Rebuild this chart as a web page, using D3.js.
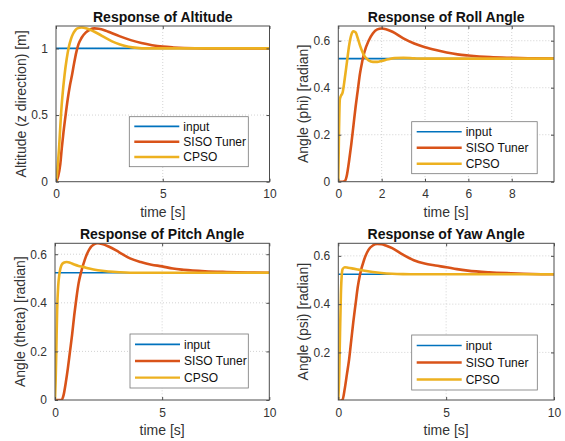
<!DOCTYPE html>
<html>
<head>
<meta charset="utf-8">
<script src="https://cdn.jsdelivr.net/npm/d3@7"></script>
<style>
body { margin: 0; background: #fff; }
svg { display: block; font-family: "Liberation Sans", Arial, sans-serif; }
</style>
</head>
<body>
<svg id="chart" width="565" height="441"></svg>
<script>
// legend names and colours (MATLAB defaults)
var seriesNames = ["input", "SISO Tuner", "CPSO"];
var seriesColors = ["#0072BD", "#D95319", "#EDB120"];

// step inputs
var inputT = [0, 10];
var altInputY = [1, 1];
var angInputY = [0.5236, 0.5236];

// ---- Altitude ----
var altSisoT = [0, 0.1, 0.2, 0.27, 0.35, 0.45, 0.55, 0.65, 0.75, 0.85, 0.95, 1.05, 1.2, 1.4, 1.6, 1.8, 2.0, 2.3, 2.6, 3.0, 3.5, 4.0, 4.5, 5.0, 5.5, 6.0, 7.0, 10];
var altSisoY = [0, 0.04, 0.13, 0.25, 0.37, 0.5, 0.62, 0.72, 0.8, 0.89, 0.97, 1.03, 1.08, 1.12, 1.142, 1.15, 1.148, 1.135, 1.115, 1.09, 1.062, 1.04, 1.024, 1.013, 1.007, 1.003, 1.0, 1.0];
var altCpsoT = [0, 0.05, 0.1, 0.15, 0.2, 0.25, 0.3, 0.4, 0.5, 0.6, 0.7, 0.8, 0.9, 1.0, 1.2, 1.4, 1.6, 1.8, 2.0, 2.3, 2.6, 3.0, 3.4, 3.8, 4.2, 10];
var altCpsoY = [0, 0.06, 0.16, 0.27, 0.41, 0.54, 0.64, 0.8, 0.92, 1.01, 1.07, 1.11, 1.135, 1.15, 1.157, 1.152, 1.14, 1.125, 1.108, 1.08, 1.055, 1.03, 1.013, 1.004, 1.0, 1.0];

// ---- Roll ----
var rollSisoT = [0, 0.2, 0.3, 0.4, 0.5, 0.6, 0.7, 0.8, 0.9, 1.0, 1.1, 1.2, 1.4, 1.6, 1.8, 2.0, 2.2, 2.5, 3.0, 3.5, 4.0, 4.5, 5.0, 5.5, 6.0, 7.0, 8.0, 9.0, 10];
var rollSisoY = [0, 0, 0.003, 0.03, 0.09, 0.16, 0.24, 0.32, 0.39, 0.46, 0.51, 0.55, 0.6, 0.632, 0.648, 0.652, 0.649, 0.638, 0.61, 0.588, 0.572, 0.56, 0.55, 0.542, 0.537, 0.53, 0.527, 0.525, 0.524];
var rollCpsoT = [0, 0.03, 0.07, 0.12, 0.2, 0.3, 0.4, 0.5, 0.6, 0.7, 0.8, 0.9, 1.0, 1.1, 1.2, 1.4, 1.6, 1.8, 2.0, 2.3, 2.6, 3.0, 3.5, 4.0, 10];
var rollCpsoY = [0, 0.2, 0.35, 0.365, 0.38, 0.44, 0.51, 0.58, 0.625, 0.64, 0.635, 0.61, 0.58, 0.555, 0.535, 0.516, 0.51, 0.51, 0.514, 0.521, 0.526, 0.527, 0.525, 0.5236, 0.5236];

// ---- Pitch ----
var pitchSisoT = [0, 0.3, 0.4, 0.5, 0.6, 0.7, 0.8, 0.9, 1.0, 1.1, 1.2, 1.4, 1.6, 1.8, 2.0, 2.2, 2.5, 3.0, 3.5, 4.0, 4.5, 5.0, 5.5, 6.0, 7.0, 8.0, 9.0, 10];
var pitchSisoY = [0, 0, 0.02, 0.07, 0.13, 0.2, 0.27, 0.35, 0.42, 0.48, 0.52, 0.58, 0.62, 0.64, 0.645, 0.642, 0.632, 0.608, 0.583, 0.568, 0.557, 0.55, 0.541, 0.536, 0.53, 0.527, 0.525, 0.524];
var pitchCpsoT = [0, 0.03, 0.06, 0.1, 0.15, 0.2, 0.25, 0.3, 0.4, 0.55, 0.7, 0.9, 1.1, 1.3, 1.6, 2.0, 2.5, 3.0, 3.5, 4.0, 10];
var pitchCpsoY = [0, 0.08, 0.2, 0.37, 0.47, 0.515, 0.54, 0.555, 0.565, 0.568, 0.565, 0.558, 0.552, 0.548, 0.541, 0.534, 0.529, 0.526, 0.524, 0.5236, 0.5236];

// ---- Yaw ----
var yawSisoT = [0, 0.1, 0.2, 0.3, 0.4, 0.5, 0.6, 0.7, 0.8, 0.9, 1.0, 1.2, 1.4, 1.6, 1.8, 2.0, 2.2, 2.5, 3.0, 3.5, 4.0, 4.5, 5.0, 5.5, 6.0, 7.0, 8.0, 9.0, 10];
var yawSisoY = [0, 0, 0.005, 0.05, 0.11, 0.17, 0.25, 0.33, 0.4, 0.47, 0.52, 0.585, 0.625, 0.643, 0.649, 0.648, 0.643, 0.632, 0.605, 0.582, 0.568, 0.56, 0.553, 0.545, 0.539, 0.532, 0.528, 0.525, 0.524];
var yawCpsoT = [0, 0.04, 0.08, 0.12, 0.16, 0.2, 0.3, 0.45, 0.7, 1.0, 1.3, 1.6, 2.0, 2.5, 3.0, 3.5, 4.0, 10];
var yawCpsoY = [0, 0.1, 0.28, 0.44, 0.52, 0.545, 0.553, 0.551, 0.547, 0.542, 0.537, 0.533, 0.529, 0.526, 0.5245, 0.524, 0.5236, 0.5236];

// axis ticks
var xTicks10 = [0, 5, 10];
var xTicksRoll = [0, 2, 4, 6, 8];
var yTicksAlt = [0, 0.5, 1];
var yTicksAng = [0, 0.2, 0.4, 0.6];
var yTicksYaw = [0.2, 0.4, 0.6];

function zipT(t, y) { return t.map(function(d, i) { return [d, y[i]]; }); }

var panels = [
  { title: "Response of Altitude", ylabel: "Altitude (z direction) [m]",
    x0: 56, x1: 269.5, y0: 26, y1: 181.7, xMax: 10, yDom: [0, 1.168],
    xTicks: xTicks10, yTicks: yTicksAlt,
    series: [zipT(inputT, altInputY), zipT(altSisoT, altSisoY), zipT(altCpsoT, altCpsoY)],
    leg: [129.3, 116.7, 119, 50] },
  { title: "Response of Roll Angle", ylabel: "Angle (phi) [radian]",
    x0: 338.3, x1: 554, y0: 26, y1: 181.7, xMax: 9.95, yDom: [0, 0.6626],
    xTicks: xTicksRoll, yTicks: yTicksAng,
    series: [zipT(inputT, angInputY), zipT(rollSisoT, rollSisoY), zipT(rollCpsoT, rollCpsoY)],
    leg: [411.7, 121.7, 125.5, 52] },
  { title: "Response of Pitch Angle", ylabel: "Angle (theta) [radian]",
    x0: 55, x1: 269.3, y0: 243.3, y1: 400, xMax: 10, yDom: [0, 0.645],
    xTicks: xTicks10, yTicks: yTicksAng,
    series: [zipT(inputT, angInputY), zipT(pitchSisoT, pitchSisoY), zipT(pitchCpsoT, pitchCpsoY)],
    leg: [130, 334, 118.3, 54] },
  { title: "Response of Yaw Angle", ylabel: "Angle (psi) [radian]",
    x0: 338.3, x1: 554, y0: 243.3, y1: 400, xMax: 10, yDom: [0.003, 0.652],
    xTicks: xTicks10, yTicks: yTicksYaw,
    series: [zipT(inputT, angInputY), zipT(yawSisoT, yawSisoY), zipT(yawCpsoT, yawCpsoY)],
    leg: [411.7, 335, 125.6, 55] }
];

var svg = d3.select("#chart");
var lineWidths = [1.6, 2.6, 2.6];
var axisColor = "#4d4d4d";

panels.forEach(function(p, pi) {
  var x = d3.scaleLinear().domain([0, p.xMax]).range([p.x0, p.x1]);
  var y = d3.scaleLinear().domain(p.yDom).range([p.y1, p.y0]);
  var g = svg.append("g");

  g.append("clipPath").attr("id", "clip" + pi)
    .append("rect")
    .attr("x", p.x0).attr("y", p.y0)
    .attr("width", p.x1 - p.x0).attr("height", p.y1 - p.y0);

  // Grid
  g.selectAll(".gx").data(p.xTicks.filter(function(d) { return d > 0 && d < p.xMax; }))
    .enter().append("line")
    .attr("x1", function(d) { return x(d); }).attr("x2", function(d) { return x(d); })
    .attr("y1", p.y0).attr("y2", p.y1)
    .attr("stroke", "#c8c8c8").attr("stroke-width", 0.8).attr("stroke-dasharray", "1,2");
  g.selectAll(".gy").data(p.yTicks.filter(function(d) { return d > p.yDom[0]; }))
    .enter().append("line")
    .attr("x1", p.x0).attr("x2", p.x1)
    .attr("y1", function(d) { return y(d); }).attr("y2", function(d) { return y(d); })
    .attr("stroke", "#c8c8c8").attr("stroke-width", 0.8).attr("stroke-dasharray", "1,2");

  // Lines
  var line = d3.line()
    .x(function(d) { return x(d[0]); })
    .y(function(d) { return y(d[1]); })
    .curve(d3.curveMonotoneX);
  g.append("g").attr("clip-path", "url(#clip" + pi + ")")
    .selectAll("path").data(p.series).enter().append("path")
    .attr("d", line)
    .attr("fill", "none")
    .attr("stroke", function(d, i) { return seriesColors[i]; })
    .attr("stroke-width", function(d, i) { return lineWidths[i]; })
    .attr("stroke-linejoin", "round");

  // Box
  g.append("rect")
    .attr("x", p.x0).attr("y", p.y0)
    .attr("width", p.x1 - p.x0).attr("height", p.y1 - p.y0)
    .attr("fill", "none").attr("stroke", axisColor).attr("stroke-width", 1);

  // X axis (ticks inward, top and bottom)
  var xAx = g.append("g").attr("transform", "translate(0," + p.y1 + ")")
    .call(d3.axisBottom(x).tickValues(p.xTicks).tickSize(-3).tickPadding(8).tickSizeOuter(0));
  g.append("g").attr("transform", "translate(0," + p.y0 + ")")
    .call(d3.axisTop(x).tickValues(p.xTicks).tickSize(-3).tickFormat("").tickSizeOuter(0));
  // Y axis (ticks inward, left and right)
  g.append("g").attr("transform", "translate(" + p.x0 + ",0)")
    .call(d3.axisLeft(y).tickValues(p.yTicks).tickSize(-3).tickPadding(8).tickSizeOuter(0).tickFormat(function(d) { return String(d); }));
  g.append("g").attr("transform", "translate(" + p.x1 + ",0)")
    .call(d3.axisRight(y).tickValues(p.yTicks).tickSize(-3).tickFormat("").tickSizeOuter(0));

  g.selectAll(".domain").remove();
  g.selectAll(".tick line").attr("stroke", axisColor);
  g.selectAll(".tick text").attr("fill", "#333").attr("font-size", "12px")
    .attr("font-family", "Liberation Sans, Arial, sans-serif");

  // Title
  g.append("text")
    .attr("x", (p.x0 + p.x1) / 2).attr("y", p.y0 - 4.5)
    .attr("text-anchor", "middle")
    .attr("font-size", "14px").attr("font-weight", "bold").attr("fill", "#111")
    .text(p.title);
  // X label
  g.append("text")
    .attr("x", (p.x0 + p.x1) / 2).attr("y", p.y1 + 35)
    .attr("text-anchor", "middle")
    .attr("font-size", "14px").attr("fill", "#333")
    .text("time [s]");
  // Y label
  var lx = p.x0 - 30, ly = (p.y0 + p.y1) / 2;
  g.append("text")
    .attr("x", lx).attr("y", ly)
    .attr("text-anchor", "middle")
    .attr("font-size", "14px").attr("fill", "#333")
    .attr("transform", "rotate(-90," + lx + "," + ly + ")")
    .text(p.ylabel);

  // Legend
  var L = p.leg;
  var lg = g.append("g").attr("transform", "translate(" + L[0] + "," + L[1] + ")");
  lg.append("rect").attr("width", L[2]).attr("height", L[3])
    .attr("fill", "#fff").attr("stroke", "#777").attr("stroke-width", 0.8);
  var rowH = (L[3] - 4) / 3;
  seriesNames.forEach(function(name, i) {
    var ry = 2 + rowH * (i + 0.5);
    lg.append("line")
      .attr("x1", 5).attr("x2", 50).attr("y1", ry).attr("y2", ry)
      .attr("stroke", seriesColors[i]).attr("stroke-width", i === 0 ? 1.6 : 2.4);
    lg.append("text")
      .attr("x", 54).attr("y", ry).attr("dy", "0.35em")
      .attr("font-size", "12px").attr("fill", "#111")
      .text(name);
  });
});
</script>
</body>
</html>
